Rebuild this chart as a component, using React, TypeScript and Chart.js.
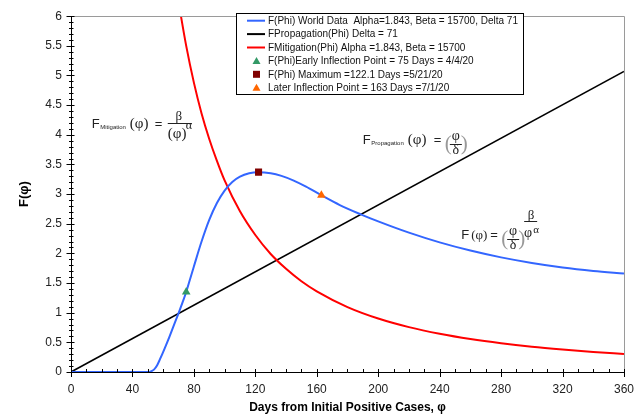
import React, { useEffect, useRef } from "react";
import { Chart, registerables } from "chart.js";

Chart.register(...registerables);

// ---- data ----
const blueDays = [0, 10, 20, 30, 40, 50, 52, 54, 56, 58, 61, 64, 67, 70, 72.5, 75, 77.5, 80, 85, 90, 95, 100, 105, 110, 116, 122, 130, 137, 145, 153, 163, 175, 189, 200, 220, 240, 260, 280, 300, 320, 340, 360];
const blueValues = [0, 0, 0, 0, 0, 0, 0.01, 0.04, 0.11, 0.22, 0.4, 0.59, 0.79, 0.99, 1.165, 1.35, 1.565, 1.78, 2.2, 2.565, 2.85, 3.06, 3.205, 3.295, 3.352, 3.37, 3.352, 3.307, 3.228, 3.126, 2.98, 2.815, 2.655, 2.54, 2.35, 2.186, 2.048, 1.933, 1.839, 1.763, 1.705, 1.66];

const propagationDays = [0, 360];
const propagationValues = [0, 5.07];

const mitigationDays = [70, 75, 80, 85, 90, 95, 100, 110, 120, 130, 140, 150, 160, 180, 200, 220, 240, 260, 280, 300, 320, 340, 360];
const mitigationValues = [6.24, 5.5, 4.88, 4.36, 3.93, 3.56, 3.23, 2.71, 2.31, 1.99, 1.74, 1.53, 1.36, 1.095, 0.902, 0.757, 0.645, 0.556, 0.485, 0.427, 0.38, 0.339, 0.305];

const markerDays = [75, 122.1, 163];
const markerValues = [1.35, 3.37, 2.98];

const seriesLabels = [
  "F(Phi) World Data  Alpha=1.843, Beta = 15700, Delta 71",
  "FPropagation(Phi) Delta = 71",
  "FMitigation(Phi) Alpha =1.843, Beta = 15700",
  "F(Phi)Early Inflection Point = 75 Days = 4/4/20",
  "F(Phi) Maximum =122.1 Days =5/21/20",
  "Later Inflection Point = 163 Days =7/1/20",
];
const seriesColors = ["#3366ff", "#000000", "#ff0000", "#339966", "#800000", "#ff6600"];
const markerStyles = ["triangle", "rect", "triangle"];

const xTitle = "Days from Initial Positive Cases, \u03c6";
const yTitle = "F(\u03c6)";

const SANS = "'Liberation Sans', Arial, sans-serif";
const SERIF = "'Liberation Serif', 'Times New Roman', serif";

const toPts = (xs: number[], ys: number[]) => xs.map((x, i) => ({ x, y: ys[i] }));

const decorPlugin = {
  id: "decor",
  afterDraw(chart: any) {
    const ctx = chart.ctx as CanvasRenderingContext2D;
    const xs = chart.scales.x;
    const ys = chart.scales.y;
    const ca = chart.chartArea;
    ctx.save();

    // frame top/right
    ctx.strokeStyle = "#9a9a9a";
    ctx.lineWidth = 1;
    ctx.beginPath();
    ctx.moveTo(ca.left, Math.round(ca.top) + 0.5);
    ctx.lineTo(Math.round(ca.right) + 0.5, Math.round(ca.top) + 0.5);
    ctx.lineTo(Math.round(ca.right) + 0.5, ca.bottom);
    ctx.stroke();

    // ticks
    ctx.strokeStyle = "#000";
    ctx.lineWidth = 1;
    ctx.beginPath();
    const yAxisX = Math.round(ca.left) + 0.5;
    for (let v = 0; v <= 60; v++) {
      const py = Math.round(ys.getPixelForValue(v / 10)) + 0.5;
      if (v % 5 === 0) {
        ctx.moveTo(yAxisX - 5, py);
        ctx.lineTo(yAxisX + 3, py);
      } else {
        ctx.moveTo(yAxisX - 2.5, py);
        ctx.lineTo(yAxisX + 2, py);
      }
    }
    const xAxisY = Math.round(ca.bottom) + 0.5;
    for (let d = 0; d <= 360; d += 10) {
      const px = Math.round(xs.getPixelForValue(d)) + 0.5;
      if (d % 40 === 0) {
        ctx.moveTo(px, xAxisY - 3.5);
        ctx.lineTo(px, xAxisY + 4.5);
      } else {
        ctx.moveTo(px, xAxisY - 3.5);
        ctx.lineTo(px, xAxisY);
      }
    }
    ctx.stroke();

    // axis titles
    ctx.fillStyle = "#000";
    ctx.font = `bold 12px ${SANS}`;
    ctx.textAlign = "center";
    ctx.textBaseline = "alphabetic";
    ctx.fillText(xTitle, (ca.left + ca.right) / 2, 411);
    ctx.save();
    ctx.translate(28, (ca.top + ca.bottom) / 2);
    ctx.rotate(-Math.PI / 2);
    ctx.font = `bold 13px ${SANS}`;
    ctx.fillText(yTitle, 0, 0);
    ctx.restore();

    // legend
    const lx = 236.5, ly = 13.5, lw = 287, lh = 81;
    ctx.fillStyle = "#fff";
    ctx.fillRect(lx, ly, lw, lh);
    ctx.strokeStyle = "#000";
    ctx.lineWidth = 1;
    ctx.strokeRect(lx, ly, lw, lh);
    ctx.font = `10px ${SANS}`;
    ctx.textAlign = "left";
    ctx.textBaseline = "middle";
    for (let i = 0; i < seriesLabels.length; i++) {
      const cy = 20.7 + i * 13.4;
      if (i < 3) {
        ctx.strokeStyle = seriesColors[i];
        ctx.lineWidth = 2;
        ctx.beginPath();
        ctx.moveTo(247, cy);
        ctx.lineTo(265, cy);
        ctx.stroke();
      } else {
        ctx.fillStyle = seriesColors[i];
        const style = markerStyles[i - 3];
        ctx.beginPath();
        if (style === "triangle") {
          ctx.moveTo(256.5, cy - 4);
          ctx.lineTo(260.5, cy + 3);
          ctx.lineTo(252.5, cy + 3);
          ctx.closePath();
        } else {
          ctx.rect(253, cy - 3.5, 7, 7);
        }
        ctx.fill();
      }
      ctx.fillStyle = "#111";
      ctx.fillText(seriesLabels[i], 268, cy + 0.5);
    }

    // formula annotations
    ctx.textBaseline = "alphabetic";

    const txt = (s: string, x: number, y: number, font: string, align: CanvasTextAlign = "left", color = "#222") => {
      ctx.font = font;
      ctx.textAlign = align;
      ctx.fillStyle = color;
      ctx.fillText(s, x, y);
    };
    const hline = (x1: number, x2: number, y: number) => {
      ctx.strokeStyle = "#222";
      ctx.lineWidth = 1;
      ctx.beginPath();
      ctx.moveTo(x1, Math.round(y) + 0.5);
      ctx.lineTo(x2, Math.round(y) + 0.5);
      ctx.stroke();
    };

    // F_Mitigation
    {
      const ax = xs.getPixelForValue(13.5);
      const ay = ys.getPixelForValue(4.12);
      txt("F", ax, ay, `13px ${SANS}`);
      txt("Mitigation", ax + 8.5, ay + 1, `6px ${SANS}`);
      txt("(\u03c6)", ax + 38, ay, `15px ${SERIF}`);
      txt("=", ax + 63, ay, `13px ${SANS}`);
      txt("\u03b2", ax + 87, ay - 8, `13px ${SERIF}`, "center");
      hline(ax + 76, ax + 100, ay - 5);
      txt("(\u03c6)", ax + 76, ay + 10, `15px ${SERIF}`);
      txt("\u03b1", ax + 94, ay + 1, `12px ${SERIF}`);
    }

    // F_Propagation
    {
      const ax = xs.getPixelForValue(190);
      const ay = ys.getPixelForValue(3.84);
      txt("F", ax, ay, `13px ${SANS}`);
      txt("Propagation", ax + 8.5, ay + 1, `6px ${SANS}`);
      txt("(\u03c6)", ax + 45, ay, `15px ${SERIF}`);
      txt("=", ax + 71, ay, `13px ${SANS}`);
      txt("(", ax + 82, ay + 6, `21px ${SERIF}`, "left", "#999");
      txt(")", ax + 98, ay + 6, `21px ${SERIF}`, "left", "#999");
      txt("\u03c6", ax + 93, ay - 4, `14px ${SERIF}`, "center");
      hline(ax + 87, ax + 99, ay);
      txt("\u03b4", ax + 93, ay + 10, `14px ${SERIF}`, "center");
    }

    // F combined
    {
      const ax = xs.getPixelForValue(254);
      const ay = ys.getPixelForValue(2.24);
      txt("F", ax, ay, `13px ${SANS}`);
      txt("(\u03c6)", ax + 10, ay, `13px ${SERIF}`);
      txt("=", ax + 29, ay, `13px ${SANS}`);
      txt("(", ax + 40, ay + 6, `21px ${SERIF}`, "left", "#999");
      txt(")", ax + 57, ay + 6, `21px ${SERIF}`, "left", "#999");
      txt("\u03c6", ax + 52, ay - 4, `14px ${SERIF}`, "center");
      hline(ax + 46, ax + 58, ay);
      txt("\u03b4", ax + 52, ay + 10, `14px ${SERIF}`, "center");
      txt("\u03b2", ax + 70, ay - 20, `13px ${SERIF}`, "center");
      hline(ax + 63, ax + 76, ay - 18);
      txt("\u03c6", ax + 67, ay - 2, `14px ${SERIF}`, "center");
      txt("\u03b1", ax + 72, ay - 6, `11px ${SERIF}`);
    }

    ctx.restore();
  },
};

export default function App() {
  const ref = useRef<HTMLCanvasElement | null>(null);

  useEffect(() => {
    if (!ref.current) return;
    const tickFont = { family: SANS, size: 12 };
    const chart = new Chart(ref.current, {
      type: "line",
      data: {
        datasets: [
          {
            label: seriesLabels[3],
            data: [{ x: markerDays[0], y: markerValues[0] }],
            showLine: false,
            pointStyle: "triangle",
            pointRadius: 5,
            pointBackgroundColor: seriesColors[3],
            pointBorderColor: seriesColors[3],
            pointBorderWidth: 0,
          },
          {
            label: seriesLabels[4],
            data: [{ x: markerDays[1], y: markerValues[1] }],
            showLine: false,
            pointStyle: "rect",
            pointRadius: 5,
            pointBackgroundColor: seriesColors[4],
            pointBorderColor: seriesColors[4],
            pointBorderWidth: 0,
          },
          {
            label: seriesLabels[5],
            data: [{ x: markerDays[2], y: markerValues[2] }],
            showLine: false,
            pointStyle: "triangle",
            pointRadius: 5,
            pointBackgroundColor: seriesColors[5],
            pointBorderColor: seriesColors[5],
            pointBorderWidth: 0,
          },
          {
            label: seriesLabels[0],
            data: toPts(blueDays, blueValues),
            borderColor: seriesColors[0],
            borderWidth: 2,
            pointRadius: 0,
            cubicInterpolationMode: "monotone",
            fill: false,
          },
          {
            label: seriesLabels[2],
            data: toPts(mitigationDays, mitigationValues),
            borderColor: seriesColors[2],
            borderWidth: 2,
            pointRadius: 0,
            cubicInterpolationMode: "monotone",
            fill: false,
          },
          {
            label: seriesLabels[1],
            data: toPts(propagationDays, propagationValues),
            borderColor: seriesColors[1],
            borderWidth: 1.6,
            pointRadius: 0,
            fill: false,
          },
        ],
      },
      options: {
        animation: false,
        responsive: false,
        maintainAspectRatio: false,
        layout: { padding: { left: 0, top: 12, right: 15, bottom: 0 } },
        plugins: { legend: { display: false }, tooltip: { enabled: false } },
        scales: {
          x: {
            type: "linear",
            min: 0,
            max: 360,
            afterFit: (s: any) => {
              s.height = 47;
            },
            ticks: { stepSize: 40, font: tickFont, color: "#222", padding: 10, maxRotation: 0 },
            grid: { display: true, drawOnChartArea: false, drawTicks: false },
            border: { display: true, color: "#000", width: 1 },
          },
          y: {
            type: "linear",
            min: 0,
            max: 6,
            afterFit: (s: any) => {
              s.width = 71;
            },
            ticks: {
              stepSize: 0.5,
              font: tickFont,
              color: "#222",
              padding: 9,
              callback: (v: any) => String(Number(v)),
            },
            grid: { display: true, drawOnChartArea: false, drawTicks: false },
            border: { display: true, color: "#000", width: 1 },
          },
        },
      } as any,
      plugins: [decorPlugin],
    });
    return () => chart.destroy();
  }, []);

  return (
    <div style={{ position: "fixed", left: 0, top: 0, width: 644, height: 419, background: "#fff" }}>
      <canvas ref={ref} width={644} height={419} style={{ width: 644, height: 419 }} />
    </div>
  );
}
